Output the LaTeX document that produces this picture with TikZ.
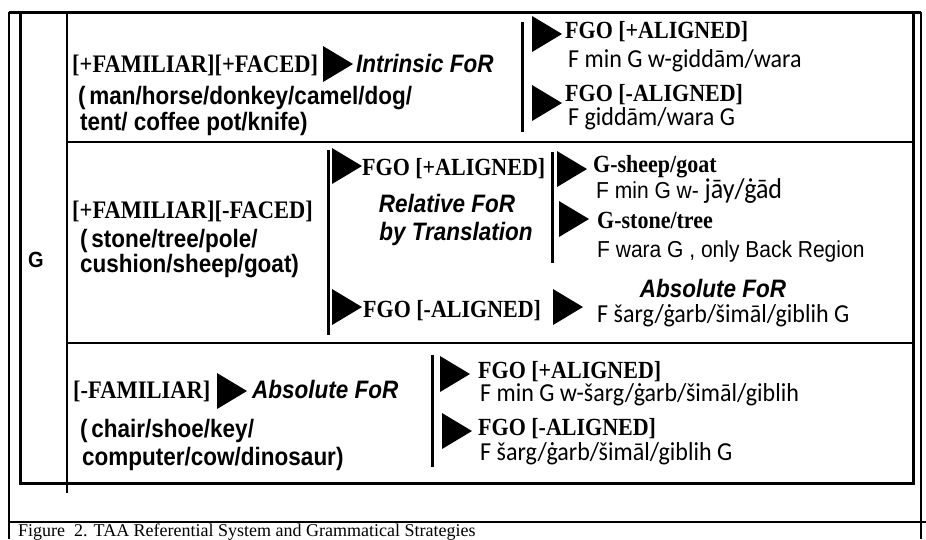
\documentclass[tikz,border=0pt]{standalone}
\usepackage{fontspec}
\setmainfont{Liberation Serif}
\newfontfamily\arialfont{Liberation Sans}
\newfontfamily\calfont{Carlito}
\usetikzlibrary{positioning}
\tikzstyle{feat}=[font=\fontsize{22}{26}\selectfont\bfseries, anchor=base west, inner sep=0pt, yscale=1.12]
\tikzstyle{objs}=[font=\arialfont\fontsize{22.5}{26}\selectfont\bfseries, anchor=base west, inner sep=0pt, yscale=1.12]
\tikzstyle{frm}=[font=\arialfont\fontsize{22.5}{26}\selectfont\bfseries\itshape, anchor=base, inner sep=0pt, yscale=1.12]
\tikzstyle{gloss}=[font=\calfont\fontsize{24}{28}\selectfont, anchor=base west, inner sep=0pt, yscale=1.08]
\tikzstyle{plain}=[font=\arialfont\fontsize{21}{25}\selectfont, anchor=base west, inner sep=0pt, yscale=1.1]
\tikzstyle{bar}=[line width=3pt]
% filled pointer, 30 wide and 36 high, centred on a named coordinate
\newcommand\pointer[2]{\coordinate (#1) at (#2);
  \fill (#1) ++(-15,-18) -- ++(30,18) -- ++(-30,18) -- cycle;}

\begin{document}
\begin{tikzpicture}[x=1pt,y=-1pt]
    \useasboundingbox (0,0) rectangle (926,539);
    % frame
    \draw[line width=1.2pt] (9,12) -- (9,539);
    \draw[line width=1.2pt] (921,12) -- (921,539);
    \draw[line width=1.2pt] (9,522) -- (926,522);
    \draw[line width=3pt] (9,12) -- (921,12);
    \draw[line width=3pt] (20,12) -- (20,483) -- (913,483) -- (913,12);
    \draw[line width=2pt] (67,12) -- (67,493);
    \draw[line width=2pt] (67,142) -- (913,142) (67,343) -- (913,343);
    \node[font=\arialfont\bfseries\fontsize{20}{24}\selectfont, yscale=1.1] (g) at (36,260) {G};

    % familiar, faced
    \node[feat, font=\fontsize{22.5}{26}\selectfont\bfseries] (fam1) at (72,72) {[+FAMILIAR][+FACED]};
    \pointer{t1}{338,64}
    \node[frm, anchor=base west] (intr) at (356,72) {Intrinsic FoR};
    \node[objs] (obj1a) at (78,104) {(\,man/horse/donkey/camel/dog/};
    \node[objs] (obj1b) at (80,130) {tent/ coffee pot/knife)};
    \draw[bar] (522,22) -- (522,132);
    \pointer{t1a}{547,34}
    \node[feat] (al1a) at (565,38) {FGO [+ALIGNED]};
    \node[gloss] (gl1a) at (568,67) {F min G w-giddām/wara};
    \pointer{t1b}{547,103}
    \node[feat] (al1b) at (565,101) {FGO [-ALIGNED]};
    \node[gloss] (gl1b) at (568,125) {F giddām/wara G};

    % familiar, not faced
    \node[feat, font=\fontsize{22.5}{26}\selectfont\bfseries] (fam2) at (72,218) {[+FAMILIAR][-FACED]};
    \node[objs] (obj2a) at (80,247) {(\,stone/tree/pole/};
    \node[objs] (obj2b) at (80,272) {cushion/sheep/goat)};
    \draw[bar] (328,150) -- (328,335);
    \pointer{t2a}{347,166}
    \node[feat] (al2a) at (362,175) {FGO [+ALIGNED]};
    \node[frm] (rel1) at (447,212) {Relative FoR};
    \node[frm] (rel2) at (456,240) {by Translation};
    \draw[bar] (552,152) -- (552,263);
    \pointer{t2b}{572,169}
    \node[feat] (sh) at (593,172) {G-sheep/goat};
    \node[plain] (gl2a) at (596,198) {F min G w- {\calfont\fontsize{26}{30}\selectfont jāy/ġād}};
    \pointer{t2c}{574,219}
    \node[feat] (st) at (597,228) {G-stone/tree};
    \node[plain] (gl2b) at (597,257) {F wara G , only Back Region};
    \node[frm] (abs1) at (713,297) {Absolute FoR};
    \pointer{t2d}{347,307}
    \node[feat] (al2b) at (363,317) {FGO [-ALIGNED]};
    \pointer{t2e}{568,307}
    \node[gloss] (gl2c) at (597,322) {F šarg/ġarb/šimāl/giblih G};

    % not familiar
    \node[feat, font=\fontsize{22.5}{26}\selectfont\bfseries] (fam3) at (73,398) {[-FAMILIAR]};
    \pointer{t3}{232,391}
    \node[frm, anchor=base west] (abs2) at (252,398) {Absolute FoR};
    \node[objs] (obj3a) at (80,437) {(\,chair/shoe/key/};
    \node[objs] (obj3b) at (82,465) {computer/cow/dinosaur)};
    \draw[bar] (432,355) -- (432,467);
    \pointer{t3a}{455,374}
    \node[feat] (al3a) at (478,378) {FGO [+ALIGNED]};
    \node[gloss] (gl3a) at (480,401) {F min G w-šarg/ġarb/šimāl/giblih};
    \pointer{t3b}{457,431}
    \node[feat] (al3b) at (478,435) {FGO [-ALIGNED]};
    \node[gloss] (gl3b) at (480,460) {F šarg/ġarb/šimāl/giblih G};

    % caption
    \node[font=\fontsize{18}{20}\selectfont, anchor=base west, inner sep=0pt] (cap) at (18,536) {Figure~~2. TAA Referential System and Grammatical Strategies};
\end{tikzpicture}
\end{document}
